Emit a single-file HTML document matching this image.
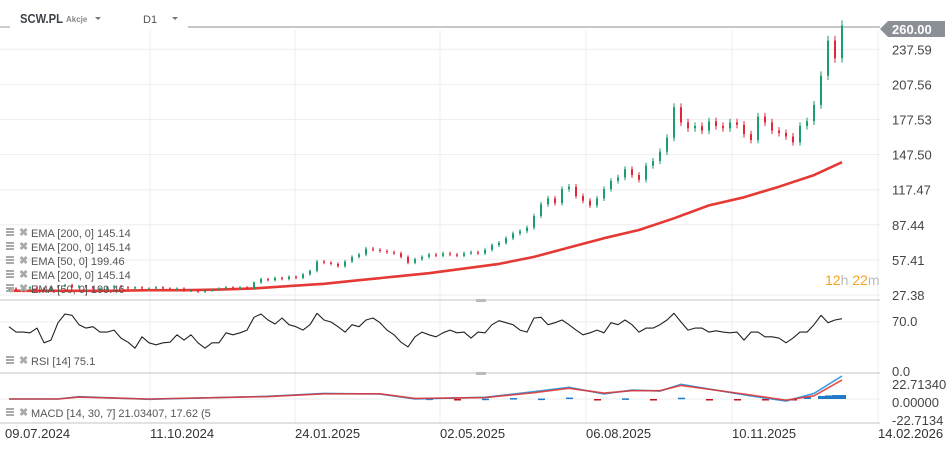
<!DOCTYPE html>
<html><head><meta charset="utf-8"><style>
html,body{margin:0;padding:0;background:#fff;}
svg{display:block;font-family:"Liberation Sans",sans-serif;}
</style></head><body>
<svg id="chart" width="951" height="449" viewBox="0 0 951 449" xmlns="http://www.w3.org/2000/svg">
<g id="grid"></g>
<g id="header">
  <line x1="0" y1="27" x2="10" y2="27" stroke="#999" stroke-width="1"/>
  <text x="20" y="23" font-size="12.5" font-weight="bold" fill="#3c434a" textLength="43" lengthAdjust="spacingAndGlyphs">SCW.PL</text>
  <text x="66" y="22" font-size="8" font-weight="bold" fill="#888">Akcje</text>
  <path d="M95 17 L101 17 L98 20 Z" fill="#777"/>
  <text x="143" y="23" font-size="11" fill="#555">D1</text>
  <path d="M172 17 L178 17 L175 20 Z" fill="#777"/>
</g>
<g id="ema"></g>
<g id="candles"></g>
<g id="yaxis"></g>
<g id="legend"></g>
<g id="rsi"></g>
<g id="macd"></g>
<g id="xaxis"></g>
</svg>
<script>
const closes=[33,32,33,34,33,32,34,35,36,34,35,34,33,33,34,35,34,33,34,33,
33,34,33,32,33,31,31,30,31,32,33,34,33,34,33,38,41,40,42,41,
43,42,45,48,56,55,54,52,56,60,62,67,66,65,64,63,60,55,58,60,
62,61,63,62,61,63,64,63,66,70,72,76,80,82,85,95,105,110,106,118,
120,112,108,104,110,118,125,128,135,130,126,138,142,150,162,188,175,170,172,168,
176,172,170,175,173,165,160,180,175,168,166,163,158,172,176,190,215,245,230,258];
const emaIdx=[0,5,10,15,20,25,30,35,40,45,50,55,60,65,70,75,80,85,90,95,100,105,110,115,119];
const emaVals=[31,31,31,31,31.5,31.5,32,33,35,37,40,43,46,50,54,60,68,76,83,93,104,111,120,130,141];
const priceTicks=[27.38,57.41,87.44,117.47,147.50,177.53,207.56,237.59];
const rsiVals=[63,55,55,54,61,39,43,69,82,80,66,61,63,55,55,58,46,40,31,48,
39,36,39,40,51,43,51,39,31,39,39,54,51,54,58,77,82,73,67,76,
66,63,58,66,83,73,70,63,55,66,63,73,76,69,58,51,40,33,48,55,
51,48,54,58,54,55,46,55,54,66,72,69,66,58,55,76,77,66,69,73,
66,58,51,54,58,54,69,66,73,66,55,61,61,66,73,83,70,58,61,61,
55,57,55,54,55,43,55,55,48,48,46,39,46,55,55,66,80,69,73,75];
const macdIdx=[0,7,10,20,37,45,53,58,68,75,80,85,89,93,96,106,111,115,119];
const macdVals=[0,0,2.9,-0.4,3.4,7.1,6.3,0,2.1,9.2,14.7,6.3,11.3,10,18.5,3.8,-2.5,7.1,29];
const sigVals=[0,0,2.4,0,3.0,6.5,6.6,0.8,1.8,8.0,13.5,7.5,10.5,10.5,17.0,5.0,-1.5,4.0,24];
const histIdx=[60,64,68,72,76,80,84,88,92,96,100,104,108,112,114,116,117,118,119];
const histVals=[0.5,-0.6,0.4,1.2,0.5,1.8,-1.2,0.8,-0.3,1.6,-0.7,-0.8,-0.5,-1.0,2.2,3.8,4.5,5,5];
const dateLabels=["09.07.2024","11.10.2024","24.01.2025","02.05.2025","06.08.2025","10.11.2025","14.02.2026"];
const dateGrid=[5,150,295,440,586,732,878];

const NS="http://www.w3.org/2000/svg";
function mk(tag,attrs,parent){const e=document.createElementNS(NS,tag);for(const k in attrs)e.setAttribute(k,attrs[k]);parent.appendChild(e);return e;}
const X=i=>9+i*7;
const Y=p=>295-(p-27.38)*35.1/30.03;
const RY=v=>369-v*0.671;
const MY=v=>399-v*18/22.71;

const grid=document.getElementById('grid');
for(let k=1;k<dateGrid.length;k++){
  const l=mk('line',{x1:dateGrid[k],y1:30,x2:dateGrid[k],y2:423,stroke:'#eeeeee','stroke-width':1},grid);
  
  
}
priceTicks.forEach(p=>{const l=mk('line',{x1:0,y1:Y(p),x2:880,y2:Y(p),stroke:'#eeeeee','stroke-width':1},grid);
  
  });
[[300,'main-panel-separator'],[373,'rsi-panel-separator'],[423,'macd-panel-separator']].forEach(([y,n])=>{
  const l=mk('line',{x1:0,y1:y,x2:880,y2:y,stroke:'#d0d0d0','stroke-width':1.2},grid);
  
  
});
[300,373].forEach(y=>{const h=mk('rect',{x:476,y:y-1,width:10,height:3,fill:'#bbb'},grid);
  
  });
mk('line',{x1:188,y1:27,x2:880,y2:27,stroke:'#8a9096','stroke-width':1},grid);
mk('line',{x1:0,y1:322,x2:880,y2:322,stroke:'#eeeeee','stroke-width':1},grid);
mk('line',{x1:0,y1:399,x2:880,y2:399,stroke:'#eeeeee','stroke-width':1},grid);

const ema=document.getElementById('ema');
const ep=mk('polyline',{points:emaIdx.map((d,i)=>X(d)+','+Y(emaVals[i]).toFixed(1)).join(' '),fill:'none',stroke:'#e53935','stroke-width':2.6,'stroke-linejoin':'round'},ema);



const cg=document.getElementById('candles');
closes.forEach((c,i)=>{
  const o=i>0?closes[i-1]:c;
  const up=c>=o;
  const col=up?'#1a9e6a':'#e0283a';
  const hi=Math.max(o,c)*1.015+0.5, lo=Math.min(o,c)*0.985-0.5;
  const w=mk('line',{x1:X(i),y1:Y(hi),x2:X(i),y2:Y(lo),stroke:col,'stroke-width':1},cg);
  
  
  const top=Y(Math.max(o,c)),bot=Y(Math.min(o,c));
  const b=mk('rect',{x:X(i)-1,y:top,width:2,height:Math.max(1,bot-top),fill:col},cg);
  
  
});

const ya=document.getElementById('yaxis');
priceTicks.forEach(p=>{const t=mk('text',{x:892,y:Y(p)+5,'font-size':13,fill:'#444'},ya);t.textContent=p.toFixed(2);
  
  });
const tag=mk('path',{d:'M880 29 L888 21 L945 21 L945 37 L888 37 Z',fill:'#8a9096'},ya);


const tt=mk('text',{x:892,y:34,'font-size':13,fill:'#fff','font-weight':'bold'},ya);tt.textContent='260.00';


[[322,'70.0'],[372,'0.0'],[385,'22.71340'],[403,'0.00000'],[421,'-22.7134']].forEach(([y,s])=>{
  const t=mk('text',{x:892,y:y+4,'font-size':13,fill:'#444'},ya);t.textContent=s;
  
  });
const cd=mk('text',{x:825,y:285,'font-size':14,fill:'#f7a21b'},ya);
cd.innerHTML='12<tspan fill="#bbb">h</tspan> 22<tspan fill="#bbb">m</tspan>';



const lg=document.getElementById('legend');
function legendRow(y,text,name){
  const ic=mk('g',{},lg);
  
  
  mk('rect',{x:6,y:y-8,width:8,height:2,fill:'#aaa'},ic);
  mk('rect',{x:6,y:y-5,width:8,height:2,fill:'#aaa'},ic);
  mk('rect',{x:6,y:y-2,width:8,height:2,fill:'#aaa'},ic);
  const x=mk('text',{x:19,y:y,'font-size':11,fill:'#aaa','font-weight':'bold'},lg);x.textContent='✖';
  
  
  const t=mk('text',{x:31,y:y+1,'font-size':11,fill:'#555'},lg);t.textContent=text;
  
  
}
legendRow(236,'EMA [200,  0]  145.14','ema-legend-1');
legendRow(250,'EMA [200,  0]  145.14','ema-legend-2');
legendRow(264,'EMA [50,  0]  199.46','ema-legend-3');
legendRow(278,'EMA [200,  0]  145.14','ema-legend-4');
legendRow(292,'EMA [50,  0]  199.46','ema-legend-5');
legendRow(364,'RSI [14]  75.1','rsi-legend');
legendRow(416,'MACD [14, 30, 7] 21.03407,  17.62  (5','macd-legend');

const rg=document.getElementById('rsi');
const rl=mk('polyline',{points:rsiVals.map((v,i)=>X(i)+','+RY(v).toFixed(1)).join(' '),fill:'none',stroke:'#222','stroke-width':1.1,'stroke-linejoin':'round'},rg);



const mg=document.getElementById('macd');
histIdx.forEach((d,i)=>{const v=histVals[i];
  const r=mk('rect',{x:X(d)-3,y:Math.min(MY(v),399),width:7,height:Math.max(1.5,Math.abs(MY(v)-399)),fill:v>=0?'#1f78c8':'#c0141e'},mg);
  
  });
const ml=mk('polyline',{points:macdIdx.map((d,i)=>X(d)+','+MY(macdVals[i]).toFixed(1)).join(' '),fill:'none',stroke:'#3a9ee0','stroke-width':1.6},mg);


const sl=mk('polyline',{points:macdIdx.map((d,i)=>X(d)+','+MY(sigVals[i]).toFixed(1)).join(' '),fill:'none',stroke:'#e03030','stroke-width':1.6,opacity:0.85},mg);



const xa=document.getElementById('xaxis');
dateLabels.forEach((s,i)=>{const t=mk('text',{x:dateGrid[i],y:438,'font-size':13,fill:'#333'},xa);t.textContent=s;
  
  });
</script>
</body></html>
